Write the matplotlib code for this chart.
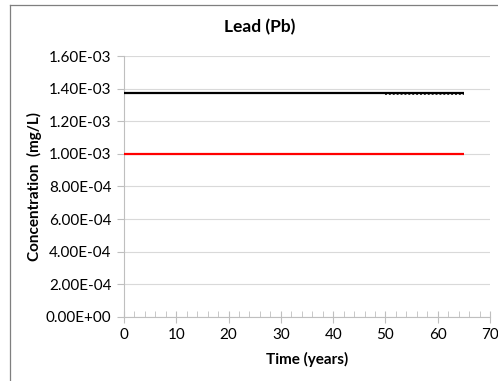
import matplotlib
matplotlib.use("Agg")
import matplotlib.pyplot as plt
from matplotlib.ticker import MultipleLocator, FuncFormatter
from matplotlib.lines import Line2D

plt.rcParams['font.family'] = ['Lato', 'DejaVu Sans']

years = [0, 65]
predicted = [1.375e-3, 1.375e-3]
standard = [1.0e-3, 1.0e-3]
dotted_years_a = [22, 65]
dotted_vals_a = [1.372e-3, 1.372e-3]
dotted_years_b = [50, 65]
dotted_vals_b = [1.370e-3, 1.370e-3]

fig = plt.figure(figsize=(4.98, 3.81), dpi=100)
ax = fig.add_axes([0.249, 0.168, 0.735, 0.685])

ax.plot(years, predicted, color='black', lw=1.6, solid_capstyle='butt', zorder=3)
ax.plot(dotted_years_a, dotted_vals_a, color='#999999', lw=1.2, ls=(0, (1, 1)), zorder=2)
ax.plot(dotted_years_b, dotted_vals_b, color='#333333', lw=1.4, ls=(0, (1, 1)), zorder=2)
ax.plot(years, standard, color='#ff0000', lw=1.6, solid_capstyle='butt', zorder=3)

ax.set_xlim(0, 70)
ax.set_ylim(0, 1.6e-3)
ax.xaxis.set_major_locator(MultipleLocator(10))
ax.xaxis.set_minor_locator(MultipleLocator(2))
ax.yaxis.set_major_locator(MultipleLocator(2e-4))

def sci(v, pos):
    return f"{v:.2E}"
ax.yaxis.set_major_formatter(FuncFormatter(sci))

ax.grid(axis='y', color='#d9d9d9', lw=0.8)
ax.set_axisbelow(True)
for s in ['top', 'right']:
    ax.spines[s].set_visible(False)
for s in ['left', 'bottom']:
    ax.spines[s].set_color('#bfbfbf')
    ax.spines[s].set_linewidth(0.8)

ax.tick_params(axis='y', which='major', direction='out', length=5, color='#bfbfbf',
               labelsize=11, labelcolor='#000000', pad=4)
ax.tick_params(axis='x', which='major', direction='inout', length=8, color='#bfbfbf',
               labelsize=11, labelcolor='#000000', pad=4)
ax.tick_params(axis='x', which='minor', direction='in', length=4, color='#bfbfbf')

fig.text(260/498, 1 - 27/381, 'Lead (Pb)', fontsize=12.5, fontweight='bold',
         ha='center', va='center')
ax.set_xlabel('Time (years)', fontsize=11, fontweight='bold', labelpad=7)
ax.set_ylabel('Concentration  (mg/L)', fontsize=11, fontweight='bold', labelpad=3)

# chart border (left and top visible)
fig.add_artist(Line2D([10/498, 10/498], [0, 1 - 5/381], color='#7f7f7f', lw=0.9, transform=fig.transFigure))
fig.add_artist(Line2D([10/498, 1], [1 - 5/381, 1 - 5/381], color='#7f7f7f', lw=0.9, transform=fig.transFigure))

fig.savefig('out.png', dpi=100)
